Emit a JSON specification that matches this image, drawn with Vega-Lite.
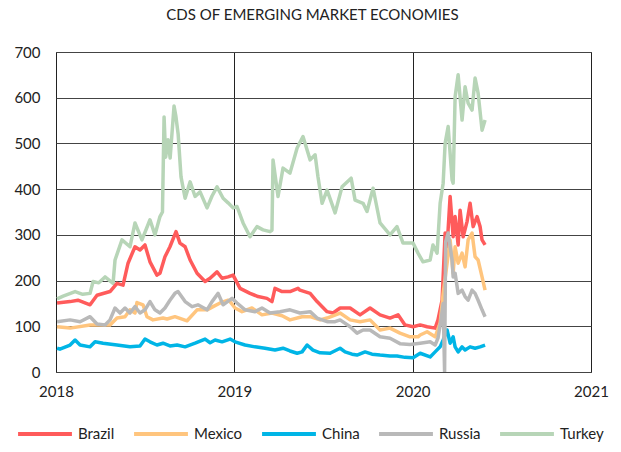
{
"$schema": "https://vega.github.io/schema/vega-lite/v6.json",
"width": 535, "height": 320,
"autosize": {"type": "none"},
"padding": {"left": 56, "top": 52, "right": 30, "bottom": 80},
"background": "white",
"title": {"text": "CDS OF EMERGING MARKET ECONOMIES", "fontSize": 15, "font": "Lato", "fontWeight": "normal", "color": "#222222", "offset": 22, "dx": -11},
"config": {"view": {"stroke": "#444444", "strokeWidth": 1}},
"datasets": {
"cds": [
{"country":"Turkey","t":2018.006,"cds":160},{"country":"Turkey","t":2018.04,"cds":166},{"country":"Turkey","t":2018.107,"cds":176},{"country":"Turkey","t":2018.15,"cds":170},{"country":"Turkey","t":2018.191,"cds":172},{"country":"Turkey","t":2018.208,"cds":198},{"country":"Turkey","t":2018.24,"cds":195},{"country":"Turkey","t":2018.275,"cds":208},{"country":"Turkey","t":2018.32,"cds":194},{"country":"Turkey","t":2018.331,"cds":245},{"country":"Turkey","t":2018.37,"cds":289},{"country":"Turkey","t":2018.415,"cds":274},{"country":"Turkey","t":2018.443,"cds":326},{"country":"Turkey","t":2018.482,"cds":289},{"country":"Turkey","t":2018.527,"cds":333},{"country":"Turkey","t":2018.555,"cds":300},{"country":"Turkey","t":2018.583,"cds":340},{"country":"Turkey","t":2018.597,"cds":350},{"country":"Turkey","t":2018.606,"cds":558},{"country":"Turkey","t":2018.615,"cds":470},{"country":"Turkey","t":2018.628,"cds":508},{"country":"Turkey","t":2018.64,"cds":468},{"country":"Turkey","t":2018.662,"cds":582},{"country":"Turkey","t":2018.672,"cds":560},{"country":"Turkey","t":2018.685,"cds":520},{"country":"Turkey","t":2018.701,"cds":427},{"country":"Turkey","t":2018.724,"cds":380},{"country":"Turkey","t":2018.752,"cds":416},{"country":"Turkey","t":2018.78,"cds":384},{"country":"Turkey","t":2018.808,"cds":394},{"country":"Turkey","t":2018.847,"cds":359},{"country":"Turkey","t":2018.875,"cds":385},{"country":"Turkey","t":2018.903,"cds":405},{"country":"Turkey","t":2018.937,"cds":380},{"country":"Turkey","t":2018.965,"cds":370},{"country":"Turkey","t":2018.993,"cds":359},{"country":"Turkey","t":2019.015,"cds":362},{"country":"Turkey","t":2019.049,"cds":326},{"country":"Turkey","t":2019.088,"cds":296},{"country":"Turkey","t":2019.127,"cds":318},{"country":"Turkey","t":2019.161,"cds":311},{"country":"Turkey","t":2019.2,"cds":307},{"country":"Turkey","t":2019.211,"cds":310},{"country":"Turkey","t":2019.217,"cds":464},{"country":"Turkey","t":2019.245,"cds":384},{"country":"Turkey","t":2019.273,"cds":446},{"country":"Turkey","t":2019.312,"cds":435},{"country":"Turkey","t":2019.352,"cds":490},{"country":"Turkey","t":2019.385,"cds":515},{"country":"Turkey","t":2019.425,"cds":464},{"country":"Turkey","t":2019.453,"cds":475},{"country":"Turkey","t":2019.469,"cds":427},{"country":"Turkey","t":2019.492,"cds":369},{"country":"Turkey","t":2019.52,"cds":398},{"country":"Turkey","t":2019.565,"cds":348},{"country":"Turkey","t":2019.604,"cds":405},{"country":"Turkey","t":2019.655,"cds":424},{"country":"Turkey","t":2019.677,"cds":376},{"country":"Turkey","t":2019.722,"cds":369},{"country":"Turkey","t":2019.744,"cds":351},{"country":"Turkey","t":2019.778,"cds":402},{"country":"Turkey","t":2019.817,"cds":326},{"country":"Turkey","t":2019.873,"cds":300},{"country":"Turkey","t":2019.912,"cds":318},{"country":"Turkey","t":2019.946,"cds":282},{"country":"Turkey","t":2020.002,"cds":282},{"country":"Turkey","t":2020.03,"cds":260},{"country":"Turkey","t":2020.058,"cds":241},{"country":"Turkey","t":2020.098,"cds":245},{"country":"Turkey","t":2020.114,"cds":278},{"country":"Turkey","t":2020.137,"cds":260},{"country":"Turkey","t":2020.154,"cds":369},{"country":"Turkey","t":2020.171,"cds":413},{"country":"Turkey","t":2020.182,"cds":500},{"country":"Turkey","t":2020.199,"cds":537},{"country":"Turkey","t":2020.221,"cds":420},{"country":"Turkey","t":2020.227,"cds":413},{"country":"Turkey","t":2020.238,"cds":602},{"country":"Turkey","t":2020.255,"cds":650},{"country":"Turkey","t":2020.277,"cds":551},{"country":"Turkey","t":2020.294,"cds":624},{"country":"Turkey","t":2020.311,"cds":588},{"country":"Turkey","t":2020.333,"cds":573},{"country":"Turkey","t":2020.35,"cds":643},{"country":"Turkey","t":2020.367,"cds":610},{"country":"Turkey","t":2020.389,"cds":529},{"country":"Turkey","t":2020.406,"cds":551},
{"country":"Brazil","t":2018.006,"cds":151},{"country":"Brazil","t":2018.079,"cds":154},{"country":"Brazil","t":2018.123,"cds":157},{"country":"Brazil","t":2018.191,"cds":147},{"country":"Brazil","t":2018.23,"cds":168},{"country":"Brazil","t":2018.303,"cds":176},{"country":"Brazil","t":2018.342,"cds":194},{"country":"Brazil","t":2018.376,"cds":190},{"country":"Brazil","t":2018.404,"cds":238},{"country":"Brazil","t":2018.443,"cds":274},{"country":"Brazil","t":2018.471,"cds":267},{"country":"Brazil","t":2018.499,"cds":278},{"country":"Brazil","t":2018.527,"cds":241},{"country":"Brazil","t":2018.566,"cds":212},{"country":"Brazil","t":2018.583,"cds":216},{"country":"Brazil","t":2018.611,"cds":252},{"country":"Brazil","t":2018.639,"cds":274},{"country":"Brazil","t":2018.673,"cds":307},{"country":"Brazil","t":2018.695,"cds":282},{"country":"Brazil","t":2018.724,"cds":274},{"country":"Brazil","t":2018.752,"cds":245},{"country":"Brazil","t":2018.791,"cds":216},{"country":"Brazil","t":2018.836,"cds":198},{"country":"Brazil","t":2018.864,"cds":205},{"country":"Brazil","t":2018.903,"cds":219},{"country":"Brazil","t":2018.931,"cds":205},{"country":"Brazil","t":2018.965,"cds":208},{"country":"Brazil","t":2018.993,"cds":212},{"country":"Brazil","t":2019.032,"cds":183},{"country":"Brazil","t":2019.088,"cds":172},{"country":"Brazil","t":2019.133,"cds":165},{"country":"Brazil","t":2019.183,"cds":161},{"country":"Brazil","t":2019.211,"cds":154},{"country":"Brazil","t":2019.228,"cds":183},{"country":"Brazil","t":2019.268,"cds":176},{"country":"Brazil","t":2019.312,"cds":176},{"country":"Brazil","t":2019.357,"cds":183},{"country":"Brazil","t":2019.368,"cds":179},{"country":"Brazil","t":2019.425,"cds":172},{"country":"Brazil","t":2019.464,"cds":154},{"country":"Brazil","t":2019.52,"cds":132},{"country":"Brazil","t":2019.554,"cds":129},{"country":"Brazil","t":2019.593,"cds":140},{"country":"Brazil","t":2019.649,"cds":140},{"country":"Brazil","t":2019.705,"cds":125},{"country":"Brazil","t":2019.761,"cds":140},{"country":"Brazil","t":2019.817,"cds":125},{"country":"Brazil","t":2019.873,"cds":118},{"country":"Brazil","t":2019.918,"cds":125},{"country":"Brazil","t":2019.957,"cds":103},{"country":"Brazil","t":2020.002,"cds":99},{"country":"Brazil","t":2020.042,"cds":103},{"country":"Brazil","t":2020.081,"cds":99},{"country":"Brazil","t":2020.126,"cds":96},{"country":"Brazil","t":2020.142,"cds":114},{"country":"Brazil","t":2020.165,"cds":157},{"country":"Brazil","t":2020.182,"cds":304},{"country":"Brazil","t":2020.193,"cds":274},{"country":"Brazil","t":2020.21,"cds":384},{"country":"Brazil","t":2020.227,"cds":296},{"country":"Brazil","t":2020.238,"cds":340},{"country":"Brazil","t":2020.255,"cds":278},{"country":"Brazil","t":2020.266,"cds":354},{"country":"Brazil","t":2020.283,"cds":296},{"country":"Brazil","t":2020.305,"cds":329},{"country":"Brazil","t":2020.322,"cds":369},{"country":"Brazil","t":2020.339,"cds":318},{"country":"Brazil","t":2020.361,"cds":340},{"country":"Brazil","t":2020.378,"cds":318},{"country":"Brazil","t":2020.389,"cds":289},{"country":"Brazil","t":2020.406,"cds":278},
{"country":"Mexico","t":2018.006,"cds":99},{"country":"Mexico","t":2018.079,"cds":96},{"country":"Mexico","t":2018.191,"cds":103},{"country":"Mexico","t":2018.303,"cds":103},{"country":"Mexico","t":2018.342,"cds":118},{"country":"Mexico","t":2018.387,"cds":121},{"country":"Mexico","t":2018.415,"cds":136},{"country":"Mexico","t":2018.443,"cds":129},{"country":"Mexico","t":2018.454,"cds":152},{"country":"Mexico","t":2018.488,"cds":147},{"country":"Mexico","t":2018.51,"cds":121},{"country":"Mexico","t":2018.544,"cds":114},{"country":"Mexico","t":2018.6,"cds":118},{"country":"Mexico","t":2018.623,"cds":116},{"country":"Mexico","t":2018.667,"cds":121},{"country":"Mexico","t":2018.735,"cds":112},{"country":"Mexico","t":2018.791,"cds":136},{"country":"Mexico","t":2018.847,"cds":136},{"country":"Mexico","t":2018.881,"cds":143},{"country":"Mexico","t":2018.92,"cds":151},{"country":"Mexico","t":2018.965,"cds":157},{"country":"Mexico","t":2018.976,"cds":154},{"country":"Mexico","t":2019.004,"cds":140},{"country":"Mexico","t":2019.043,"cds":132},{"country":"Mexico","t":2019.099,"cds":140},{"country":"Mexico","t":2019.155,"cds":125},{"country":"Mexico","t":2019.211,"cds":129},{"country":"Mexico","t":2019.268,"cds":123},{"country":"Mexico","t":2019.312,"cds":114},{"country":"Mexico","t":2019.38,"cds":121},{"country":"Mexico","t":2019.425,"cds":121},{"country":"Mexico","t":2019.481,"cds":114},{"country":"Mexico","t":2019.52,"cds":118},{"country":"Mexico","t":2019.593,"cds":129},{"country":"Mexico","t":2019.649,"cds":114},{"country":"Mexico","t":2019.705,"cds":110},{"country":"Mexico","t":2019.761,"cds":114},{"country":"Mexico","t":2019.817,"cds":92},{"country":"Mexico","t":2019.873,"cds":96},{"country":"Mexico","t":2019.929,"cds":85},{"country":"Mexico","t":2019.985,"cds":77},{"country":"Mexico","t":2020.03,"cds":77},{"country":"Mexico","t":2020.042,"cds":81},{"country":"Mexico","t":2020.081,"cds":88},{"country":"Mexico","t":2020.126,"cds":77},{"country":"Mexico","t":2020.154,"cds":107},{"country":"Mexico","t":2020.171,"cds":172},{"country":"Mexico","t":2020.193,"cds":238},{"country":"Mexico","t":2020.21,"cds":289},{"country":"Mexico","t":2020.227,"cds":216},{"country":"Mexico","t":2020.238,"cds":274},{"country":"Mexico","t":2020.255,"cds":238},{"country":"Mexico","t":2020.277,"cds":260},{"country":"Mexico","t":2020.294,"cds":230},{"country":"Mexico","t":2020.311,"cds":289},{"country":"Mexico","t":2020.333,"cds":304},{"country":"Mexico","t":2020.35,"cds":252},{"country":"Mexico","t":2020.367,"cds":245},{"country":"Mexico","t":2020.389,"cds":208},{"country":"Mexico","t":2020.406,"cds":179},
{"country":"China","t":2018.006,"cds":52},{"country":"China","t":2018.022,"cds":50},{"country":"China","t":2018.079,"cds":59},{"country":"China","t":2018.107,"cds":70},{"country":"China","t":2018.135,"cds":59},{"country":"China","t":2018.191,"cds":55},{"country":"China","t":2018.219,"cds":66},{"country":"China","t":2018.264,"cds":63},{"country":"China","t":2018.342,"cds":59},{"country":"China","t":2018.415,"cds":55},{"country":"China","t":2018.471,"cds":57},{"country":"China","t":2018.499,"cds":72},{"country":"China","t":2018.527,"cds":66},{"country":"China","t":2018.566,"cds":59},{"country":"China","t":2018.6,"cds":63},{"country":"China","t":2018.639,"cds":57},{"country":"China","t":2018.679,"cds":59},{"country":"China","t":2018.724,"cds":55},{"country":"China","t":2018.78,"cds":63},{"country":"China","t":2018.836,"cds":72},{"country":"China","t":2018.864,"cds":64},{"country":"China","t":2018.892,"cds":70},{"country":"China","t":2018.931,"cds":66},{"country":"China","t":2018.976,"cds":72},{"country":"China","t":2019.004,"cds":66},{"country":"China","t":2019.06,"cds":59},{"country":"China","t":2019.116,"cds":55},{"country":"China","t":2019.172,"cds":52},{"country":"China","t":2019.228,"cds":48},{"country":"China","t":2019.273,"cds":52},{"country":"China","t":2019.312,"cds":46},{"country":"China","t":2019.352,"cds":41},{"country":"China","t":2019.38,"cds":44},{"country":"China","t":2019.408,"cds":59},{"country":"China","t":2019.441,"cds":48},{"country":"China","t":2019.481,"cds":42},{"country":"China","t":2019.537,"cds":41},{"country":"China","t":2019.593,"cds":52},{"country":"China","t":2019.621,"cds":44},{"country":"China","t":2019.66,"cds":39},{"country":"China","t":2019.688,"cds":37},{"country":"China","t":2019.733,"cds":44},{"country":"China","t":2019.772,"cds":39},{"country":"China","t":2019.817,"cds":37},{"country":"China","t":2019.873,"cds":35},{"country":"China","t":2019.912,"cds":35},{"country":"China","t":2019.957,"cds":32},{"country":"China","t":2020.002,"cds":31},{"country":"China","t":2020.042,"cds":41},{"country":"China","t":2020.098,"cds":33},{"country":"China","t":2020.126,"cds":44},{"country":"China","t":2020.154,"cds":55},{"country":"China","t":2020.171,"cds":70},{"country":"China","t":2020.193,"cds":92},{"country":"China","t":2020.21,"cds":63},{"country":"China","t":2020.227,"cds":77},{"country":"China","t":2020.238,"cds":55},{"country":"China","t":2020.255,"cds":44},{"country":"China","t":2020.277,"cds":55},{"country":"China","t":2020.294,"cds":48},{"country":"China","t":2020.322,"cds":55},{"country":"China","t":2020.35,"cds":52},{"country":"China","t":2020.378,"cds":55},{"country":"China","t":2020.406,"cds":59},
{"country":"Russia","t":2018.006,"cds":110},{"country":"Russia","t":2018.079,"cds":114},{"country":"Russia","t":2018.135,"cds":110},{"country":"Russia","t":2018.191,"cds":121},{"country":"Russia","t":2018.23,"cds":105},{"country":"Russia","t":2018.275,"cds":103},{"country":"Russia","t":2018.303,"cds":114},{"country":"Russia","t":2018.331,"cds":140},{"country":"Russia","t":2018.359,"cds":129},{"country":"Russia","t":2018.387,"cds":140},{"country":"Russia","t":2018.415,"cds":129},{"country":"Russia","t":2018.443,"cds":143},{"country":"Russia","t":2018.471,"cds":129},{"country":"Russia","t":2018.499,"cds":136},{"country":"Russia","t":2018.527,"cds":154},{"country":"Russia","t":2018.555,"cds":136},{"country":"Russia","t":2018.583,"cds":129},{"country":"Russia","t":2018.611,"cds":140},{"country":"Russia","t":2018.639,"cds":157},{"country":"Russia","t":2018.667,"cds":172},{"country":"Russia","t":2018.684,"cds":176},{"country":"Russia","t":2018.724,"cds":154},{"country":"Russia","t":2018.763,"cds":143},{"country":"Russia","t":2018.796,"cds":147},{"country":"Russia","t":2018.847,"cds":136},{"country":"Russia","t":2018.875,"cds":154},{"country":"Russia","t":2018.909,"cds":172},{"country":"Russia","t":2018.937,"cds":147},{"country":"Russia","t":2018.987,"cds":161},{"country":"Russia","t":2019.015,"cds":151},{"country":"Russia","t":2019.06,"cds":136},{"country":"Russia","t":2019.116,"cds":132},{"country":"Russia","t":2019.155,"cds":140},{"country":"Russia","t":2019.2,"cds":129},{"country":"Russia","t":2019.256,"cds":132},{"country":"Russia","t":2019.312,"cds":136},{"country":"Russia","t":2019.368,"cds":129},{"country":"Russia","t":2019.425,"cds":132},{"country":"Russia","t":2019.464,"cds":118},{"country":"Russia","t":2019.52,"cds":110},{"country":"Russia","t":2019.565,"cds":110},{"country":"Russia","t":2019.593,"cds":114},{"country":"Russia","t":2019.649,"cds":99},{"country":"Russia","t":2019.688,"cds":85},{"country":"Russia","t":2019.722,"cds":92},{"country":"Russia","t":2019.761,"cds":92},{"country":"Russia","t":2019.817,"cds":77},{"country":"Russia","t":2019.873,"cds":74},{"country":"Russia","t":2019.929,"cds":62},{"country":"Russia","t":2019.985,"cds":60},{"country":"Russia","t":2020.042,"cds":63},{"country":"Russia","t":2020.098,"cds":66},{"country":"Russia","t":2020.126,"cds":59},{"country":"Russia","t":2020.142,"cds":74},{"country":"Russia","t":2020.159,"cds":114},{"country":"Russia","t":2020.171,"cds":150},{"country":"Russia","t":2020.179,"cds":0},{"country":"Russia","t":2020.185,"cds":285},{"country":"Russia","t":2020.199,"cds":304},{"country":"Russia","t":2020.221,"cds":245},{"country":"Russia","t":2020.227,"cds":208},{"country":"Russia","t":2020.238,"cds":216},{"country":"Russia","t":2020.255,"cds":172},{"country":"Russia","t":2020.277,"cds":179},{"country":"Russia","t":2020.294,"cds":165},{"country":"Russia","t":2020.311,"cds":157},{"country":"Russia","t":2020.333,"cds":179},{"country":"Russia","t":2020.35,"cds":172},{"country":"Russia","t":2020.367,"cds":157},{"country":"Russia","t":2020.389,"cds":136},{"country":"Russia","t":2020.406,"cds":121}
]
},
"data": {"name": "cds"},
"mark": {"type": "line", "strokeWidth": 3.5, "strokeJoin": "round", "clip": true},
"encoding": {
"x": {"field": "t", "type": "quantitative", "scale": {"domain": [2018, 2021], "nice": false, "zero": false},
 "axis": {"values": [2018, 2019, 2020, 2021], "format": "d", "title": null, "grid": true, "gridColor": "#222222", "gridOpacity": 1, "ticks": false, "domain": false, "labelPadding": 12, "labelFontSize": 15, "labelFont": "Lato", "labelColor": "#222222", "labelFlush": false}},
"y": {"field": "cds", "type": "quantitative", "scale": {"domain": [0, 700], "nice": false},
 "axis": {"values": [0, 100, 200, 300, 400, 500, 600, 700], "title": null, "grid": true, "gridColor": "#444444", "gridOpacity": 1, "ticks": false, "domain": false, "labelPadding": 16, "labelFontSize": 15, "labelFont": "Lato", "labelColor": "#222222"}},
"color": {"field": "country", "type": "nominal",
 "scale": {"domain": ["Brazil", "Mexico", "China", "Russia", "Turkey"], "range": ["#ff5b5b", "#ffc57e", "#00b5e6", "#b9b9b9", "#b7d5b7"]},
 "legend": {"orient": "none", "legendX": -40, "legendY": 353, "direction": "horizontal", "title": null, "symbolType": "stroke", "symbolSize": 2900, "symbolStrokeWidth": 4, "labelFontSize": 15, "labelFont": "Lato", "labelColor": "#222222", "columnPadding": 11, "labelOffset": 4, "padding": 0}}
}
}
